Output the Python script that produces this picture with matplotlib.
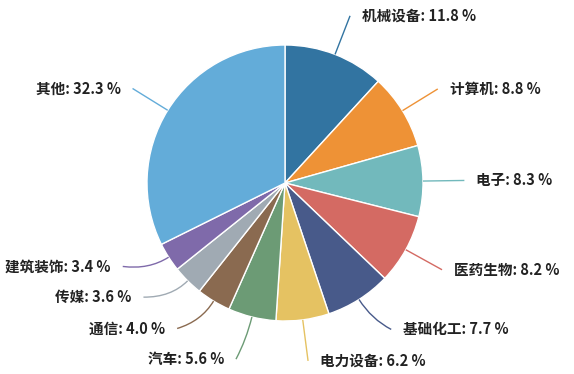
import numpy as np
import matplotlib
matplotlib.use("Agg")
import matplotlib.pyplot as plt
from matplotlib.path import Path
from matplotlib.patches import PathPatch

plt.rcParams['font.family'] = ['Noto Sans CJK SC', 'DejaVu Sans']

# data
sectors = ['机械设备', '计算机', '电子', '医药生物', '基础化工', '电力设备',
           '汽车', '通信', '传媒', '建筑装饰', '其他']
shares = [11.8, 8.8, 8.3, 8.2, 7.7, 6.2, 5.6, 4.0, 3.6, 3.4, 32.3]
colors = ['#3274a1', '#ee9236', '#72b9bc', '#d46a63', '#485a8a', '#e5c262',
          '#6c9b75', '#8a6a50', '#a0aab3', '#7f6aaa', '#63acd9']

# label nudges (pixels, +y = up) to mimic the overlap avoidance of the original
nudge = {'基础化工': (10, 5), '通信': (-15, 8), '传媒': (-15, 13),
         '建筑装饰': (-11, 13), '汽车': (-6, -2)}

W, H = 574, 374
cx, cy, R = 285, 183, 138   # pie centre / radius in pixels

fig = plt.figure(figsize=(W / 100, H / 100), dpi=100)
ax = fig.add_axes([0, 0, 1, 1])

wedges, _ = ax.pie(shares, colors=colors, startangle=90, counterclock=False,
                   radius=1, center=(0, 0), normalize=True,
                   wedgeprops=dict(edgecolor='white', linewidth=1.0))
ax.set_xlim(-cx / R, (W - cx) / R)
ax.set_ylim((cy - H) / R, cy / R)
ax.set_aspect('auto')
ax.axis('off')

total = sum(shares)
cum = 0.0
for name, val, col in zip(sectors, shares, colors):
    mid = (cum + val / 2) / total * 2 * np.pi   # clockwise from 12 o'clock
    cum += val
    sx, sy = np.sin(mid), np.cos(mid)
    p0 = (sx, sy)
    p1 = (1.17 * sx, 1.17 * sy)
    ex, ey = 1.3 * sx, 1.3 * sy
    dx, dy = nudge.get(name, (0, 0))
    ex += dx / R
    ey += dy / R
    path = Path([p0, p1, (ex, ey)], [Path.MOVETO, Path.CURVE3, Path.CURVE3])
    ax.add_patch(PathPatch(path, fc='none', ec=col, lw=1.0))
    right = sx >= 0
    tx = ex + (12 / R if right else -12 / R)
    ax.text(tx, ey, f'{name}: {val:.1f} %', fontsize=10.5, color='#222222',
            fontweight='bold', ha='left' if right else 'right', va='center')

fig.savefig('out.png', dpi=100)
